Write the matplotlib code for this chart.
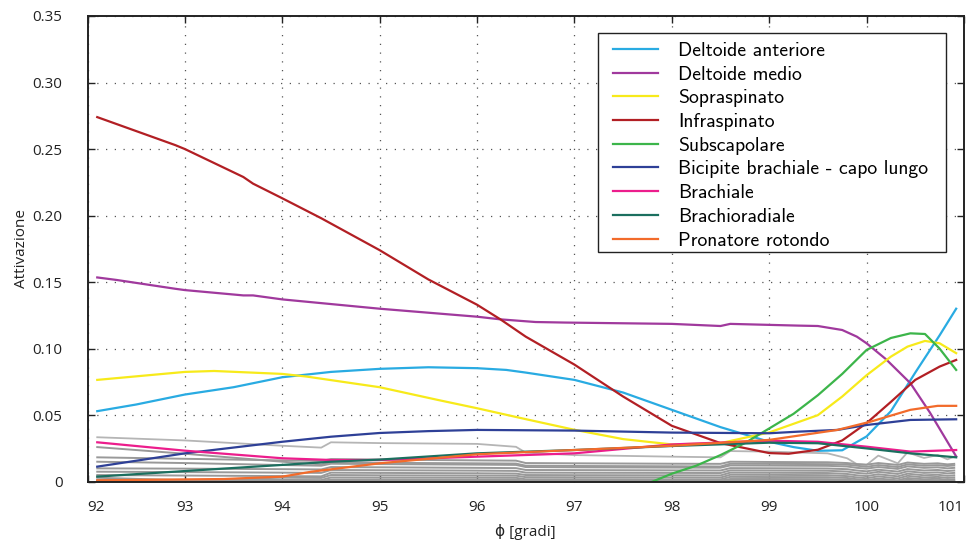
import matplotlib.pyplot as plt
from matplotlib.patches import Rectangle

plt.rcParams['font.family'] = ['Open Sans', 'DejaVu Sans']

# angolo phi [gradi] e attivazione dei muscoli principali
phi_del_ant = [92.1, 92.5, 93.0, 93.5, 94.0, 94.5, 95.0, 95.5, 96.0, 96.3, 96.5, 97.0, 97.5, 98.0,
               98.5, 99.0, 99.25, 99.5, 99.75, 100.0, 100.25, 100.5, 100.75, 100.92]
del_ant = [0.053, 0.058, 0.0655, 0.071, 0.0785, 0.0825, 0.0848, 0.086, 0.0853, 0.084, 0.082, 0.0765,
           0.067, 0.054, 0.041, 0.030, 0.026, 0.0232, 0.0236, 0.034, 0.053, 0.082, 0.110, 0.130]

phi_del_med = [92.1, 92.3, 92.9, 93.0, 93.6, 93.7, 94.0, 95.0, 96.0, 96.24, 96.6, 96.9, 98.0, 98.5,
               98.6, 99.3, 99.5, 99.75, 99.9, 100.0, 100.2, 100.45, 100.65, 100.92]
del_med = [0.1535, 0.1516, 0.145, 0.144, 0.140, 0.140, 0.137, 0.130, 0.124, 0.122, 0.120, 0.1196,
           0.1186, 0.117, 0.1186, 0.1173, 0.117, 0.114, 0.109, 0.104, 0.092, 0.074, 0.052, 0.019]

phi_sopra = [92.1, 93.0, 93.3, 94.0, 94.25, 95.0, 95.6, 96.0, 96.5, 97.0, 97.5, 98.0, 98.5, 99.0,
             99.5, 99.75, 100.0, 100.25, 100.42, 100.6, 100.75, 100.92]
sopra = [0.0765, 0.0825, 0.0832, 0.081, 0.079, 0.071, 0.0614, 0.0552, 0.047, 0.039, 0.032, 0.028,
         0.029, 0.037, 0.050, 0.064, 0.080, 0.094, 0.1015, 0.1058, 0.104, 0.0966]

phi_infra = [92.1, 92.9, 93.0, 93.6, 93.7, 94.0, 94.4, 94.5, 95.0, 95.5, 96.0, 96.24, 96.5, 97.0,
             97.5, 98.0, 98.5, 99.0, 99.2, 99.5, 99.75, 100.0, 100.25, 100.5, 100.75, 100.92]
infra = [0.274, 0.253, 0.250, 0.229, 0.224, 0.213, 0.198, 0.194, 0.174, 0.152, 0.133, 0.122, 0.109,
         0.088, 0.064, 0.042, 0.029, 0.0215, 0.021, 0.024, 0.031, 0.044, 0.060, 0.0765, 0.0865, 0.0915]

phi_subscap = [97.8, 98.0, 98.25, 98.5, 98.75, 99.0, 99.25, 99.5, 99.75, 100.0, 100.25,
               100.45, 100.6, 100.75, 100.92]
subscap = [0.0, 0.006, 0.012, 0.020, 0.029, 0.040, 0.051, 0.065, 0.081, 0.099, 0.108, 0.1115,
           0.111, 0.100, 0.084]

phi_bicipite = [92.1, 93.0, 94.0, 94.5, 95.0, 95.5, 96.0, 97.0, 98.0, 99.0, 99.3, 99.7, 100.0,
                100.45, 100.92]
bicipite = [0.0113, 0.0213, 0.030, 0.0338, 0.0366, 0.038, 0.0389, 0.0384, 0.0369, 0.0364, 0.0376,
            0.0389, 0.0426, 0.0464, 0.0469]

phi_brach = [92.1, 93.0, 94.0, 94.5, 95.0, 96.0, 97.0, 98.0, 99.0, 99.5, 100.0, 100.45, 100.92]
brach = [0.0296, 0.0233, 0.0176, 0.0163, 0.0163, 0.0188, 0.0213, 0.028, 0.0308, 0.030, 0.0263,
         0.0226, 0.0238]

phi_brachrad = [92.1, 93.0, 94.0, 94.5, 95.0, 96.0, 97.0, 98.0, 99.0, 99.5, 100.0, 100.45, 100.92]
brachrad = [0.0038, 0.008, 0.0126, 0.015, 0.0166, 0.0213, 0.0238, 0.0268, 0.0293, 0.0289, 0.025,
            0.0213, 0.0183]

phi_pronat = [92.1, 93.4, 94.0, 94.3, 95.0, 96.0, 97.0, 98.0, 99.0, 99.7, 100.04, 100.45, 100.73,
              100.92]
pronat = [0.001, 0.002, 0.0038, 0.0075, 0.0138, 0.0206, 0.0238, 0.027, 0.0314, 0.0389, 0.0451,
          0.054, 0.057, 0.057]

# altri muscoli (grigio)
phi_altri = [92.1, 93.0, 94.0, 94.4, 94.5, 95.0, 96.0, 96.4, 96.5, 97.0, 98.0, 98.5, 98.6, 99.0,
             99.6, 99.8, 99.9, 100.0, 100.12, 100.32, 100.42, 100.59, 100.73, 100.83, 100.9]
altro_1 = [0.0334, 0.031, 0.027, 0.0256, 0.0296, 0.0290, 0.0284, 0.0262, 0.0218, 0.0200, 0.0188,
           0.0183, 0.0230, 0.0226, 0.0213, 0.0176, 0.0132, 0.0126, 0.0196, 0.0138, 0.0220, 0.0178,
           0.0200, 0.0168, 0.0188]
altro_2 = [0.026, 0.021, 0.015, 0.013, 0.0145, 0.0142, 0.0138, 0.0136, 0.0120, 0.0118, 0.0116,
           0.0114, 0.0135, 0.0134, 0.0132, 0.0128, 0.0120, 0.0112, 0.0125, 0.0110, 0.0130, 0.0120,
           0.0124, 0.0118, 0.0122]
altro_3 = [0.0183, 0.0172, 0.0160, 0.0156, 0.0170, 0.0166, 0.0160, 0.0158, 0.0140, 0.0138, 0.0135,
           0.0134, 0.0150, 0.0148, 0.0146, 0.0140, 0.0132, 0.0128, 0.0140, 0.0126, 0.0144, 0.0134,
           0.0138, 0.0130, 0.0134]
altro_4 = [0.0150, 0.0140, 0.0125, 0.0120, 0.0135, 0.0132, 0.0128, 0.0126, 0.0110, 0.0108, 0.0106,
           0.0105, 0.0122, 0.0121, 0.0119, 0.0114, 0.0104, 0.0098, 0.0110, 0.0096, 0.0115, 0.0104,
           0.0108, 0.0100, 0.0104]
altro_5 = [0.0100, 0.0098, 0.0094, 0.0092, 0.0110, 0.0108, 0.0104, 0.0102, 0.0088, 0.0087, 0.0085,
           0.0084, 0.0102, 0.0101, 0.0099, 0.0094, 0.0084, 0.0078, 0.0090, 0.0076, 0.0095, 0.0084,
           0.0088, 0.0080, 0.0084]
altro_6 = [0.0075, 0.0072, 0.0068, 0.0066, 0.0088, 0.0086, 0.0083, 0.0081, 0.0068, 0.0067, 0.0066,
           0.0065, 0.0085, 0.0084, 0.0082, 0.0076, 0.0066, 0.0060, 0.0074, 0.0058, 0.0078, 0.0066,
           0.0070, 0.0062, 0.0066]
altro_7 = [0.0050, 0.0046, 0.0042, 0.0040, 0.0068, 0.0066, 0.0063, 0.0061, 0.0050, 0.0049, 0.0048,
           0.0047, 0.0068, 0.0067, 0.0065, 0.0058, 0.0048, 0.0042, 0.0056, 0.0040, 0.0060, 0.0048,
           0.0052, 0.0044, 0.0048]
altro_8 = [0.0030, 0.0010, 0.0030, 0.0028, 0.0050, 0.0048, 0.0046, 0.0045, 0.0034, 0.0033, 0.0032,
           0.0031, 0.0052, 0.0051, 0.0049, 0.0042, 0.0032, 0.0026, 0.0040, 0.0024, 0.0044, 0.0032,
           0.0036, 0.0028, 0.0032]
altro_9 = [0.0015, 0.0014, 0.0013, 0.0012, 0.0032, 0.0031, 0.0030, 0.0029, 0.0018, 0.0018, 0.0017,
           0.0017, 0.0036, 0.0035, 0.0034, 0.0028, 0.0018, 0.0012, 0.0024, 0.0010, 0.0028, 0.0018,
           0.0022, 0.0014, 0.0018]
altro_10 = [0.0006, 0.0006, 0.0005, 0.0005, 0.0016, 0.0016, 0.0015, 0.0015, 0.0008, 0.0008, 0.0008,
            0.0008, 0.0020, 0.0020, 0.0019, 0.0015, 0.0008, 0.0005, 0.0012, 0.0004, 0.0014, 0.0008,
            0.0011, 0.0006, 0.0009]
altro_11 = [0.0002, 0.0002, 0.0002, 0.0002, 0.0006, 0.0006, 0.0006, 0.0006, 0.0003, 0.0003, 0.0003,
            0.0003, 0.0008, 0.0008, 0.0008, 0.0006, 0.0003, 0.0002, 0.0005, 0.0002, 0.0006, 0.0003,
            0.0004, 0.0002, 0.0003]
altri = [altro_2, altro_3, altro_4, altro_5, altro_6, altro_7, altro_8, altro_9, altro_10, altro_11]

muscoli = [
    ('Deltoide anteriore', phi_del_ant, del_ant, '#29abe2'),
    ('Deltoide medio', phi_del_med, del_med, '#a0399d'),
    ('Sopraspinato', phi_sopra, sopra, '#f7ea1a'),
    ('Infraspinato', phi_infra, infra, '#b21f24'),
    ('Subscapolare', phi_subscap, subscap, '#3cb54a'),
    ('Bicipite brachiale - capo lungo', phi_bicipite, bicipite, '#2e4097'),
    ('Brachiale', phi_brach, brach, '#ec1d8c'),
    ('Brachioradiale', phi_brachrad, brachrad, '#1b6f5f'),
    ('Pronatore rotondo', phi_pronat, pronat, '#f26b2b'),
]

W, H = 969, 546
fig = plt.figure(figsize=(W / 100, H / 100), dpi=100)
ax = fig.add_axes([0.0903, 0.1178, 0.9045, 0.8529])

ax.plot(phi_altri, altro_1, color='#b5b5b5', lw=1.3)
for serie in altri:
    ax.plot(phi_altri, serie, color='#999999', lw=1.4)

linee = []
for nome, x, y, colore in muscoli:
    l, = ax.plot(x, y, color=colore, lw=1.6, label=nome)
    linee.append(l)

ax.set_xlim(92, 101)
ax.set_ylim(0, 0.35)
ax.set_xticks(range(92, 102))
ax.set_yticks([0, 0.05, 0.10, 0.15, 0.20, 0.25, 0.30, 0.35])
ax.set_yticklabels(['0', '0.05', '0.10', '0.15', '0.20', '0.25', '0.30', '0.35'])
xlab = ax.set_xticklabels([str(v) for v in range(92, 102)])
xlab[0].set_ha('left')
xlab[-1].set_ha('right')

ax.grid(True, color='#555555', linestyle=(0, (1, 6)), lw=0.9)
ax.tick_params(direction='in', length=5, width=1, top=True, right=True, labelsize=11, colors='#222222')
ax.tick_params(axis='y', pad=18)
ax.tick_params(axis='x', pad=13.5)
for s in ax.spines.values():
    s.set_linewidth(1.4)
    s.set_color('#222222')

ax.set_xlabel('ϕ [gradi]', fontsize=11, labelpad=6, color='#222222')
ax.set_ylabel('Attivazione', fontsize=11, labelpad=2.7, color='#222222')

# riquadro della legenda (sfondo bianco, bordo nero)
box = Rectangle((598 / W, 1 - 252 / H), 348 / W, 219 / H, transform=fig.transFigure,
                facecolor='white', edgecolor='#222222', lw=1.0, zorder=4, clip_on=False)
ax.add_patch(box)

leg = ax.legend(handles=linee, loc='upper left', bbox_to_anchor=(613 / W, 1 - 41.8 / H),
                bbox_transform=fig.transFigure, prop={'family': 'cmss10', 'size': 14.2},
                frameon=False, borderaxespad=0, borderpad=0,
                handlelength=2.3, handletextpad=1.0, labelspacing=0.29)
leg.set_zorder(5)

fig.savefig('out.png', dpi=100)
